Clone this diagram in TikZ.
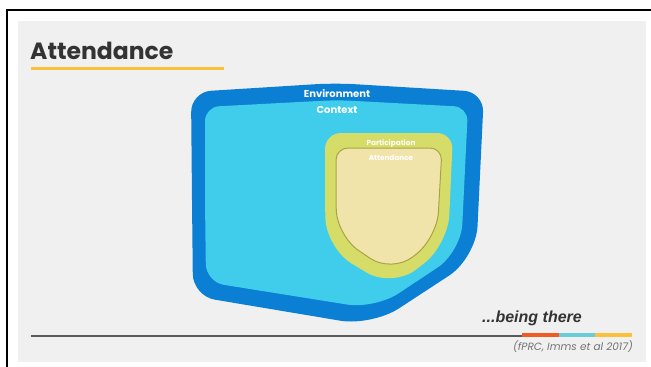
\documentclass[tikz,border=0pt]{standalone}
\usepackage{fontspec}
\setmainfont{Liberation Sans}
\newfontfamily\pop{Poppins}
\definecolor{panel}{HTML}{F0F0F0}
\definecolor{envblue}{HTML}{0A7FD4}
\definecolor{ctxblue}{HTML}{40CCEB}
\definecolor{partgrn}{HTML}{D5DC68}
\definecolor{attbeige}{HTML}{F1E4AA}
\definecolor{olive}{HTML}{A9A443}
\definecolor{barred}{HTML}{F05A24}
\definecolor{barcyan}{HTML}{6ACCD8}
\definecolor{baryel}{HTML}{FBC13A}
\tikzset{
  big/.style  = {font=\pop\fontsize{10}{10}\selectfont\bfseries, text=white, inner sep=0pt, anchor=base},
  tiny/.style = {font=\pop\fontsize{7.3}{7.3}\selectfont\bfseries, text=white, inner sep=0pt, anchor=base},
}
\begin{document}
\begin{tikzpicture}[x=1pt, y=-1pt]
  \useasboundingbox (0,0) rectangle (651,367);
  \fill[white] (0,0) rectangle (651,367);

  % ===== slide frame ====================================================
  \fill[panel] (18,21) rectangle (646,362);
  \draw[line width=2pt] (7,367) -- (7,10) -- (651,10);

  % ===== title ==========================================================
  \node[font=\pop\fontsize{23.5}{24}\selectfont\bfseries, text=black!80, inner sep=0pt,
        anchor=base west] (title) at (30,59) {Attendance};
  \fill[baryel] (31,67) rectangle (224,70);

  % ===== nested shapes ==================================================
  \fill[envblue] (192,200) [rounded corners=20pt] -- (191,92) -- (335,83)
                 -- (484,92) [rounded corners=32pt] -- (476,258) -- (372,326)
                 [rounded corners=22pt] -- (193,296) [sharp corners] -- cycle;
  \fill[ctxblue] (205,200) [rounded corners=14pt] -- (205,107) -- (337,100)
                 -- (468,107) [rounded corners=28pt] -- (461,252) -- (375,309)
                 [rounded corners=18pt] -- (206,282) [sharp corners] -- cycle;
  \fill[partgrn] (325,200) [rounded corners=16pt] -- (325,133) -- (453,133)
                 [rounded corners=30pt] -- (448,245) -- (392,288)
                 -- (326,248) [sharp corners] -- cycle;
  \filldraw[attbeige, draw=olive, line width=1pt]
                 (336,200) [rounded corners=12pt] -- (336,148) -- (442,148)
                 [rounded corners=26pt] -- (437,238) -- (392,273)
                 -- (337,236) [sharp corners] -- cycle;

  % ===== labels =========================================================
  \node[big]  (env)  at (337,97)  {Environment};
  \node[big]  (ctx)  at (337,113) {Context};
  \node[tiny] (part) at (391,145) {Participation};
  \node[tiny] (att)  at (391,160) {Attendance};

  % ===== footer =========================================================
  \node[font=\fontsize{16}{16}\selectfont\bfseries\itshape, text=black!80,
        inner sep=0pt, anchor=base east] (there) at (582,322) {...being there};
  \draw[black!65, line width=1.2pt] (31,336) -- (522,336);
  \fill[barred]  (522,333) rectangle (559,337);
  \fill[barcyan] (559,333) rectangle (595,337);
  \fill[baryel]  (595,333) rectangle (632,337);
  \node[font=\pop\fontsize{10.5}{10.5}\selectfont\itshape, text=black!55, inner sep=0pt,
        anchor=base east] (cite) at (633,350) {(fPRC, Imms et al 2017)};
\end{tikzpicture}
\end{document}
